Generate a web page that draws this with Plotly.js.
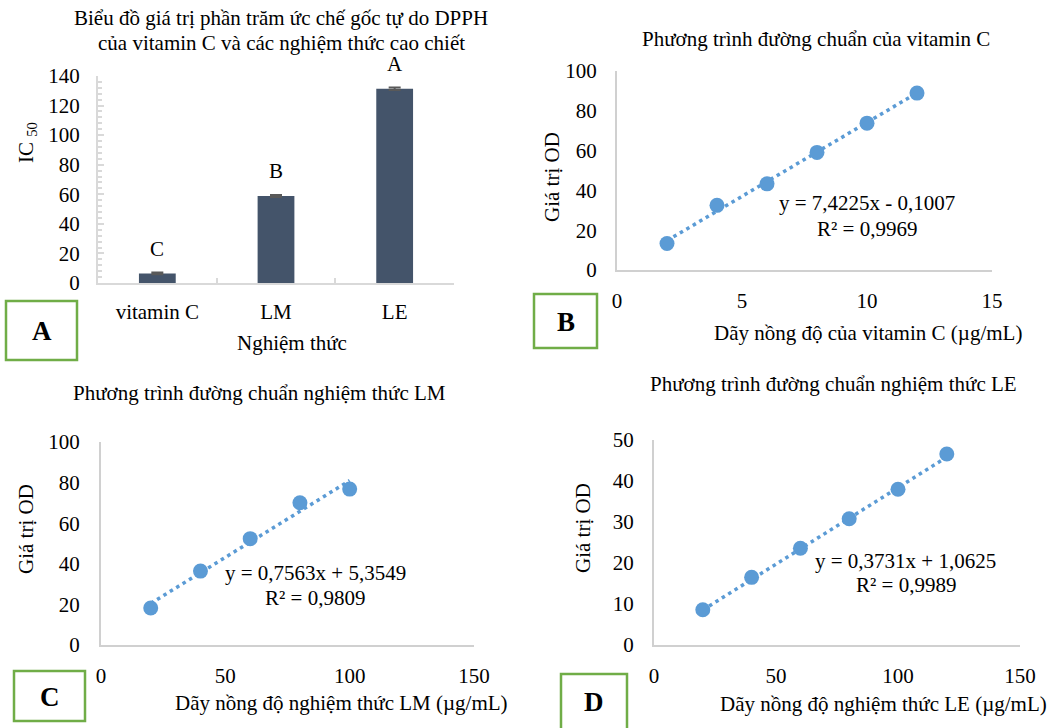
<!DOCTYPE html>
<html>
<head>
<meta charset="utf-8">
<script src="https://cdn.plot.ly/plotly-3.0.1.min.js"></script>
<style>html,body{margin:0;padding:0;background:#fff;}#chart{width:1057px;height:728px;}</style>
</head>
<body>
<div id="chart"></div>
<script>
// ---- Panel A data ----
const catsA = ["vitamin C", "LM", "LE"];
const ic50 = [6.5, 58.8, 131.4];
const ic50Err = [0.6, 0.7, 0.8];
const lettersA = ["C", "B", "A"];

// ---- Panel B data (vitamin C) ----
const concB = [2, 4, 6, 8, 10, 12];
const odB = [13.3, 32.5, 43.3, 59.1, 73.8, 88.9];
const fitB = {slope: 7.4225, intercept: -0.1007, eq: "y = 7,4225x - 0,1007", r2: "R² = 0,9969"};

// ---- Panel C data (LM) ----
const concC = [20, 40, 60, 80, 100];
const odC = [18.2, 36.4, 52.4, 70.1, 76.8];
const fitC = {slope: 0.7563, intercept: 5.3549, eq: "y = 0,7563x + 5,3549", r2: "R² = 0,9809"};

// ---- Panel D data (LE) ----
const concD = [20, 40, 60, 80, 100, 120];
const odD = [8.6, 16.5, 23.6, 30.8, 38.0, 46.6];
const fitD = {slope: 0.3731, intercept: 1.0625, eq: "y = 0,3731x + 1,0625", r2: "R² = 0,9989"};

const W = 1057, H = 728;
const FONT = "Liberation Serif, Times New Roman, serif";
const FS = 21;
const BLUE = "#5B9BD5";
const AX = "#d0d0d0";
const px = v => v / W;
const py = v => 1 - v / H;
const N = s => s.normalize("NFC");

function trend(xs, f) {
  const x0 = xs[0], x1 = xs[xs.length - 1];
  return {x: [x0, x1], y: [f.slope * x0 + f.intercept, f.slope * x1 + f.intercept]};
}

const traces = [];
traces.push({
  type: "bar", x: catsA, y: ic50, xaxis: "x", yaxis: "y",
  marker: {color: "#44546A"}, width: 0.31,
  error_y: {type: "data", array: ic50Err, visible: true, color: "#595959", thickness: 2, width: 6}
});
function scatterPanel(xs, ys, f, xa, ya) {
  const t = trend(xs, f);
  traces.push({type: "scatter", mode: "lines", x: t.x, y: t.y, xaxis: xa, yaxis: ya,
    line: {color: BLUE, width: 3.5, dash: "3.5px,4px"}, hoverinfo: "skip"});
  traces.push({type: "scatter", mode: "markers", x: xs, y: ys, xaxis: xa, yaxis: ya,
    marker: {color: BLUE, size: 15}});
}
scatterPanel(concB, odB, fitB, "x2", "y2");
scatterPanel(concC, odC, fitC, "x3", "y3");
scatterPanel(concD, odD, fitD, "x4", "y4");

function linAxis(domain, range, dtick, anchor, standoff) {
  return {domain: domain, range: range, dtick: dtick, anchor: anchor,
    showgrid: false, zeroline: false, showline: true, linecolor: AX, linewidth: 2,
    ticks: "", tickfont: {family: FONT, size: FS, color: "#000"},
    ticklabelstandoff: standoff, fixedrange: true};
}

const layout = {
  width: W, height: H, margin: {l: 0, r: 0, t: 0, b: 0},
  paper_bgcolor: "#fff", plot_bgcolor: "rgba(0,0,0,0)",
  showlegend: false,
  font: {family: FONT, size: FS, color: "#000"},
  xaxis: {domain: [px(98), px(454)], anchor: "y", type: "category",
    showline: true, linecolor: "#d9d9d9", linewidth: 2, showgrid: false,
    ticks: "inside", tickson: "boundaries", ticklen: 5, tickcolor: "#d9d9d9", tickwidth: 2,
    tickfont: {family: FONT, size: FS, color: "#000"}, ticklabelstandoff: 9},
  yaxis: {domain: [py(283), py(76)], anchor: "x", range: [0, 140], dtick: 20,
    showline: true, linecolor: "#d9d9d9", linewidth: 2, showgrid: false, zeroline: false,
    ticks: "inside", ticklen: 6, tickcolor: "#d9d9d9", tickwidth: 2,
    minor: {dtick: 4, ticks: "inside", ticklen: 4, tickcolor: "#d9d9d9", tickwidth: 2},
    tickfont: {family: FONT, size: FS, color: "#000"}, ticklabelstandoff: 12},
  xaxis2: linAxis([px(617), px(992)], [0, 15], 5, "y2", 11),
  yaxis2: linAxis([py(270), py(71)], [0, 100], 20, "x2", 14),
  xaxis3: linAxis([px(101), px(474)], [0, 150], 50, "y3", 11),
  yaxis3: linAxis([py(645), py(442)], [0, 100], 20, "x3", 15),
  xaxis4: linAxis([px(654), px(1020)], [0, 150], 50, "y4", 11),
  yaxis4: linAxis([py(645), py(440)], [0, 50], 10, "x4", 14),
  annotations: [], shapes: []
};

function txt(x, y, text, opts) {
  layout.annotations.push(Object.assign({xref: "paper", yref: "paper", x: px(x), y: py(y),
    text: N(text), showarrow: false, xanchor: "center", yanchor: "middle",
    font: {family: FONT, size: FS, color: "#000"}}, opts || {}));
}
// Panel A texts
txt(281, 18, "Biểu đồ giá trị phần trăm ức chế gốc tự do DPPH");
txt(281, 43, "của vitamin C và các nghiệm thức cao chiết");
txt(292, 343, "Nghiệm thức");
txt(27, 143, "IC <sub>50</sub>", {textangle: -90});
catsA.forEach((c, i) => {
  layout.annotations.push({xref: "x", yref: "y", x: c, y: ic50[i] + ic50Err[i], text: lettersA[i],
    showarrow: false, yanchor: "bottom", yshift: 10, font: {family: FONT, size: FS, color: "#000"}});
});
// Panel B texts
txt(816, 39, "Phương trình đường chuẩn của vitamin C");
txt(868, 333, "Dãy nồng độ của vitamin C (µg/mL)");
txt(552, 177, "Giá trị OD", {textangle: -90});
txt(867, 203, fitB.eq);
txt(867, 229, fitB.r2);
// Panel C texts
txt(259, 393, "Phương trình đường chuẩn nghiệm thức LM");
txt(341, 703, "Dãy nồng độ nghiệm thức LM (µg/mL)");
txt(26, 529, "Giá trị OD", {textangle: -90});
txt(315, 573, fitC.eq);
txt(315, 598, fitC.r2);
// Panel D texts
txt(833, 384, "Phương trình đường chuẩn nghiệm thức LE");
txt(883, 704, "Dãy nồng độ nghiệm thức LE (µg/mL)");
txt(583, 528, "Giá trị OD", {textangle: -90});
txt(905, 561, fitD.eq);
txt(906, 585, fitD.r2);

// Panel letter boxes
const boxes = [
  {l: "A", x0: 6, x1: 77, y0: 301, y1: 360},
  {l: "B", x0: 534, x1: 597, y0: 294, y1: 348},
  {l: "C", x0: 14, x1: 85, y0: 671, y1: 721},
  {l: "D", x0: 561, x1: 627, y0: 674, y1: 732}
];
boxes.forEach(b => {
  layout.shapes.push({type: "rect", xref: "paper", yref: "paper",
    x0: px(b.x0), x1: px(b.x1), y0: py(b.y1), y1: py(b.y0),
    line: {color: "#70AD47", width: 2.5}, fillcolor: "rgba(0,0,0,0)"});
  txt((b.x0 + b.x1) / 2, (b.y0 + Math.min(b.y1, 728)) / 2 + 1, "<b>" + b.l + "</b>",
    {font: {family: FONT, size: 27, color: "#000"}});
});

Plotly.newPlot("chart", traces, layout, {staticPlot: true, displayModeBar: false});
</script>
</body>
</html>
